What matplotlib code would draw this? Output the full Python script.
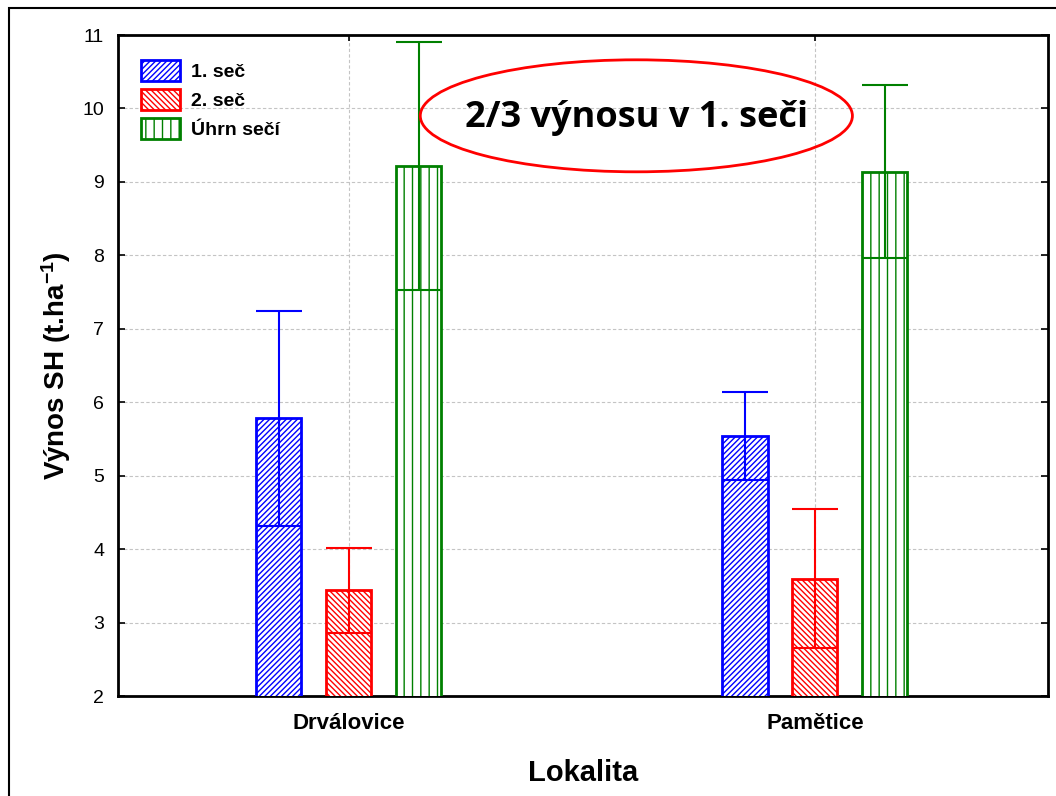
import numpy as np
import matplotlib.pyplot as plt
from matplotlib.patches import Ellipse, Rectangle, Patch

# výnosy SH (t/ha) - průměr a směrodatná odchylka
lokality = ["Drválovice", "Pamětice"]
serie = ["1. seč", "2. seč", "Úhrn sečí"]
prumer = {
    "1. seč": [5.78, 5.54],
    "2. seč": [3.44, 3.60],
    "Úhrn sečí": [9.22, 9.14],
}
odchylka = {
    "1. seč": [1.46, 0.60],
    "2. seč": [0.58, 0.94],
    "Úhrn sečí": [1.69, 1.18],
}
y_ticks = [2, 3, 4, 5, 6, 7, 8, 9, 10, 11]

barvy = {"1. seč": "#0000ff", "2. seč": "#ff0000", "Úhrn sečí": "#008000"}
srafy = {"1. seč": "//////", "2. seč": "\\\\\\\\\\\\", "Úhrn sečí": "||"}

plt.rcParams["font.family"] = ["Liberation Sans", "DejaVu Sans"]
plt.rcParams["hatch.linewidth"] = 1.0
plt.rcParams["mathtext.fontset"] = "custom"
plt.rcParams["mathtext.rm"] = "Liberation Sans:bold"
plt.rcParams["mathtext.bf"] = "Liberation Sans:bold"
plt.rcParams["mathtext.default"] = "bf"

fig = plt.figure(figsize=(10.56, 7.96), dpi=100)
ax = fig.add_axes([0.1117, 0.1256, 0.8807, 0.8304])

# ramecek kolem celeho grafu
fig.patches.append(Rectangle((9 / 1056, -0.1), 1.2, 1.1 - 8 / 796,
                             transform=fig.transFigure, fill=False,
                             edgecolor="black", linewidth=1.5))

x = np.arange(len(lokality))
sirka = 0.097
posun = [-0.15, 0.0, 0.15]
capsize = sirka * 467 / 2 * 0.72

for i, s in enumerate(serie):
    pozice = x + posun[i]
    ax.bar(pozice, prumer[s], width=sirka, facecolor="white",
           edgecolor=barvy[s], hatch=srafy[s], linewidth=2, zorder=3)
    ax.errorbar(pozice, prumer[s], yerr=odchylka[s], fmt="none",
                ecolor=barvy[s], elinewidth=1.5, capsize=capsize,
                capthick=1.5, zorder=4)

ax.set_xlim(-0.495, 1.5)
ax.set_ylim(2, 11)
ax.set_yticks(y_ticks)
ax.set_xticks(x)
ax.set_xticklabels(lokality, fontsize=16, fontweight="bold")
ax.tick_params(axis="y", labelsize=14, direction="in", length=5,
               width=1.2, right=True, pad=10)
ax.tick_params(axis="x", direction="in", length=4, width=1.2, top=True,
               pad=12)

ax.grid(True, color="#c4c4c4", linestyle=(0, (3, 2)), linewidth=0.8,
        zorder=0)
ax.set_axisbelow(True)
for sp in ax.spines.values():
    sp.set_linewidth(2)

ax.set_ylabel("Výnos SH (t.ha$^{-1}$)", fontsize=20, fontweight="bold",
              labelpad=7)
ax.set_xlabel("Lokalita", fontsize=21, fontweight="bold", labelpad=18)

# legenda
handles = [Patch(facecolor="white", edgecolor=barvy[s], hatch=srafy[s],
                 linewidth=2) for s in serie]
ax.legend(handles, serie, loc="upper left", bbox_to_anchor=(0.01, 0.983),
          frameon=False, prop={"weight": "bold", "size": 14},
          handlelength=2.0, handleheight=1.3, handletextpad=0.6,
          labelspacing=0.4, borderaxespad=0.3)

# popisek v elipse
ax.add_patch(Ellipse((0.617, 9.9), 0.927, 1.525, fill=False,
                     edgecolor="red", linewidth=2, zorder=5))
ax.text(0.617, 9.87, "2/3 výnosu v 1. seči", ha="center", va="center",
        fontsize=26, fontweight="bold", family=["Open Sans", "DejaVu Sans"],
        zorder=6)

fig.savefig("out.png", dpi=100)
